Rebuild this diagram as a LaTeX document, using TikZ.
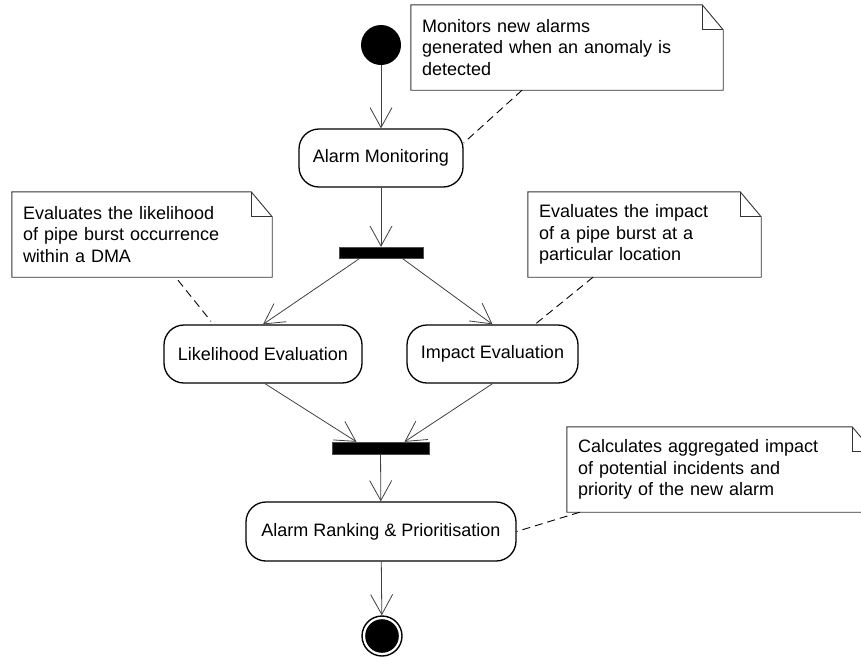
\documentclass[tikz,border=0pt]{standalone}
\usepackage{fontspec}
\setmainfont{Liberation Sans}
\usetikzlibrary{arrows.meta,calc}

\tikzset{
  action/.style={draw=black, line width=1.3pt, rounded corners=20pt,
    minimum height=58pt, inner sep=0pt, font=\fontsize{18}{21.5}\selectfont},
  syncbar/.style={draw=black!70, fill=black, inner sep=0pt},
  flow/.style={draw=black!75, line width=0.8pt,
    -{Straight Barb[length=20pt,width=22pt,line width=0.8pt]}},
  plainflow/.style={draw=black!85, line width=0.8pt},
  notebox/.style={draw=none, minimum height=85pt, inner xsep=11pt, inner ysep=0pt,
    align=left, font=\fontsize{18}{21.5}\selectfont},
  noteline/.style={draw=black!80, line width=0.9pt},
  anchorline/.style={draw=black, line width=0.9pt, dash pattern=on 8pt off 5pt},
}

% outline of a note with a folded top-right corner
\newcommand\drawnote[1]{%
  \draw[noteline] (#1.north west) -- ($(#1.north east)+(-21,0)$)
     -- ($(#1.north east)+(0,25)$) -- (#1.south east) -- (#1.south west) -- cycle;
  \draw[noteline] ($(#1.north east)+(-21,0)$) |- ($(#1.north east)+(0,25)$);
}

\begin{document}
\begin{tikzpicture}[x=1pt,y=-1pt]
\useasboundingbox (0,0) rectangle (861,657);
\clip (0,0) rectangle (861,657);

% activity nodes
\node[circle, fill=black, minimum size=40pt, inner sep=0pt] (start) at (381,45) {};
\node[action, minimum width=164pt] (am) at (381,158) {Alarm Monitoring};
\node[syncbar, minimum width=84pt, minimum height=11pt] (fork) at (381,252.5) {};
\node[action, minimum width=198pt] (le) at (263,354) {Likelihood Evaluation};
\node[action, minimum width=171pt] (ie) at (492.5,354) {Impact Evaluation};
\node[syncbar, minimum width=97pt, minimum height=12pt] (join) at (380.5,448) {};
\node[action, minimum width=270pt, minimum height=59pt] (ar) at (381,531.5) {Alarm Ranking \& Prioritisation};
\node[circle, draw=black, line width=1.4pt, minimum size=40pt, inner sep=0pt] (end) at (382,636) {};
\fill[black] (end.center) circle (16.8pt);

% control flow
\draw[flow] (start) -- (am);
\draw[flow] (am) -- (fork);
\draw[flow] ($(fork.south)+(-21,0)$) -- (le.north);
\draw[flow] ($(fork.south)+(21,0)$) -- (ie.north);
\draw[flow] ($(le.south)+(2,0)$) -- ($(join.north)+(-24,0)$);
\draw[flow] (ie.south) -- ($(join.north)+(24,0)$);
\draw[flow] (join) -- (ar);
\draw[flow] (ar) -- (end);

% notes
\node[notebox, minimum width=312pt, text width=290pt] (n1) at (567,47.5)
  {Monitors new alarms\\generated when an anomaly is\\detected};
\node[notebox, minimum width=260pt, text width=238pt] (n2) at (142,234.5)
  {Evaluates the likelihood\\of pipe burst occurrence\\within a DMA};
\node[notebox, minimum width=233pt, text width=211pt] (n3) at (644.5,234.5)
  {Evaluates the impact\\of a pipe burst at a\\particular location};
\node[notebox, minimum width=306pt, text width=284pt] (n4) at (720,469.5)
  {Calculates aggregated impact\\of potential incidents and\\priority of the new alarm};
\drawnote{n1}
\drawnote{n2}
\drawnote{n3}
\drawnote{n4}

% note anchors
\draw[anchorline] ($(n1.south)+(-45,0)$) -- ($(am.east)+(0,-15)$);
\draw[anchorline] ($(n2.south)+(36,3)$) -- ($(le.north)+(-52,-3)$);
\draw[anchorline] ($(n3.south)+(-51.5,0)$) -- ($(ie.north)+(42.5,0)$);
\draw[anchorline] ($(n4.south west)+(13,0)$) -- (ar.east);
\end{tikzpicture}
\end{document}
